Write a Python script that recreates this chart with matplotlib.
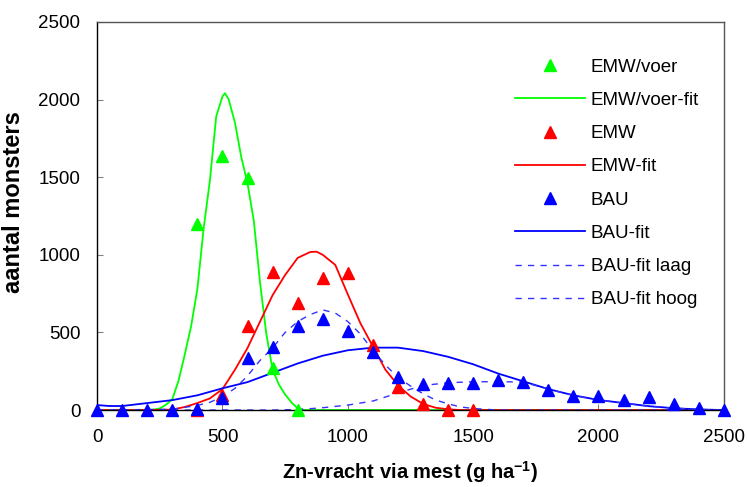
import matplotlib
matplotlib.use('Agg')
import matplotlib.pyplot as plt

plt.rcParams['font.family'] = ['Liberation Sans', 'DejaVu Sans']
plt.rcParams['mathtext.fontset'] = 'custom'
plt.rcParams['mathtext.rm'] = 'Liberation Sans'
plt.rcParams['mathtext.bf'] = 'Liberation Sans:bold'

# --- meetpunten ---
voer_x = [400, 500, 600, 700, 800]
voer_y = [1200, 1635, 1493, 270, 0]

emw_x = [400, 500, 600, 700, 800, 900, 1000, 1100, 1200, 1300, 1400, 1500]
emw_y = [0, 95, 541, 891, 691, 850, 882, 420, 148, 38, 0, 0]

bau_x = [0, 100, 200, 300, 400, 500, 600, 700, 800, 900, 1000, 1100, 1200,
         1300, 1400, 1500, 1600, 1700, 1800, 1900, 2000, 2100, 2200, 2300, 2400, 2500]
bau_y = [0, 0, 0, 0, 5, 78, 335, 408, 541, 588, 511, 376, 215,
         170, 172, 172, 193, 182, 129, 90, 90, 64, 82, 39, 11, 0]

voer_fit_x = [0, 100, 200, 225, 250, 275, 300, 325, 350, 375, 400, 425, 450, 475, 500, 510,
              525, 550, 575, 600, 625, 650, 675, 700, 725, 750, 775, 800, 825, 850, 2500]
voer_fit_y = [0, 0, 0, 3, 10, 35, 70, 190, 360, 540, 780, 1170, 1480, 1890, 2020, 2041,
              2000, 1850, 1630, 1460, 1220, 820, 490, 260, 165, 100, 50, 10, 0, 0, 0]

emw_fit_x = [0, 100, 200, 300, 350, 400, 450, 500, 550, 600, 650, 700, 750, 800, 850, 875,
             900, 950, 1000, 1050, 1100, 1150, 1200, 1250, 1300, 1350, 1400, 1450, 2500]
emw_fit_y = [0, 0, 0, 3, 20, 45, 75, 135, 260, 400, 570, 740, 870, 980, 1018, 1020,
             1000, 935, 745, 560, 410, 260, 160, 88, 40, 15, 5, 0, 0]

bau_fit_x = [0, 50, 100, 200, 300, 400, 500, 600, 700, 800, 900, 1000, 1100, 1200, 1300,
             1400, 1500, 1600, 1700, 1800, 1900, 2000, 2100, 2200, 2300, 2400, 2500]
bau_fit_y = [32, 26, 26, 45, 64, 95, 140, 180, 240, 300, 350, 385, 402, 402, 380,
             343, 295, 235, 185, 135, 95, 65, 45, 25, 12, 4, 0]

laag_x = [0, 300, 400, 450, 500, 550, 600, 650, 700, 750, 800, 850, 900, 950, 1000, 1050,
          1100, 1150, 1200, 1250, 1300, 1350, 1400, 1450, 1500, 1600, 2500]
laag_y = [0, 5, 30, 50, 86, 140, 220, 320, 400, 500, 570, 615, 645, 625, 570, 490,
          385, 290, 210, 155, 105, 65, 40, 20, 10, 0, 0]

hoog_x = [0, 700, 800, 900, 1000, 1100, 1200, 1300, 1400, 1500, 1600, 1700, 1800, 1900,
          2000, 2100, 2200, 2300, 2400, 2500]
hoog_y = [0, 0, 3, 15, 32, 58, 110, 158, 176, 182, 183, 180, 135, 95,
          65, 45, 25, 12, 4, 0]

green = '#00ff00'
red = '#ff0000'
blue = '#0000ff'
dash_blue = '#3333ff'

fig = plt.figure(figsize=(7.47, 4.87), dpi=100)
ax = fig.add_axes([0.130, 0.158, 0.839, 0.797])

ms = 8.5
ax.plot(voer_x, voer_y, '^', color=green, ms=ms, ls='none', label='EMW/voer', clip_on=False, zorder=3)
ax.plot(voer_fit_x, voer_fit_y, color=green, lw=1.3, label='EMW/voer-fit', zorder=2)
ax.plot(emw_x, emw_y, '^', color=red, ms=ms, ls='none', label='EMW', clip_on=False, zorder=3)
ax.plot(emw_fit_x, emw_fit_y, color=red, lw=1.3, label='EMW-fit', zorder=2)
ax.plot(bau_x, bau_y, '^', color=blue, ms=ms, ls='none', label='BAU', clip_on=False, zorder=4)
ax.plot(bau_fit_x, bau_fit_y, color=blue, lw=1.3, label='BAU-fit', zorder=2)
ax.plot(laag_x, laag_y, color=dash_blue, lw=1.0, dashes=(4.5, 4.5), label='BAU-fit laag', zorder=2)
ax.plot(hoog_x, hoog_y, color=dash_blue, lw=1.0, dashes=(4.5, 4.5), label='BAU-fit hoog', zorder=2)

ax.set_xlim(0, 2500)
ax.set_ylim(0, 2500)
ax.set_xticks(range(0, 2501, 500))
ax.set_yticks(range(0, 2501, 500))
ax.tick_params(direction='in', length=4, color='#808080', labelsize=13.5)
ax.tick_params(axis='x', pad=14)
ax.tick_params(axis='y', pad=12)

for s in ['left', 'bottom']:
    ax.spines[s].set_color('black')
    ax.spines[s].set_linewidth(1.0)
for s in ['top', 'right']:
    ax.spines[s].set_color('#555555')
    ax.spines[s].set_linewidth(1.0)

ax.set_xlabel(r'Zn-vracht via mest (g ha$^{\mathbf{-1}}$)', fontsize=14.5, fontweight='bold', labelpad=9)
ax.set_ylabel('aantal monsters', fontsize=17, fontweight='bold')
ax.yaxis.set_label_coords(-0.115, 0.536)

fig.legend(loc='upper left', bbox_to_anchor=(0.689, 0.880), frameon=False,
           fontsize=13.5, handlelength=3.75, handletextpad=0.3, labelspacing=0.86,
           borderpad=0, borderaxespad=0)

fig.savefig('out.png', dpi=100)
